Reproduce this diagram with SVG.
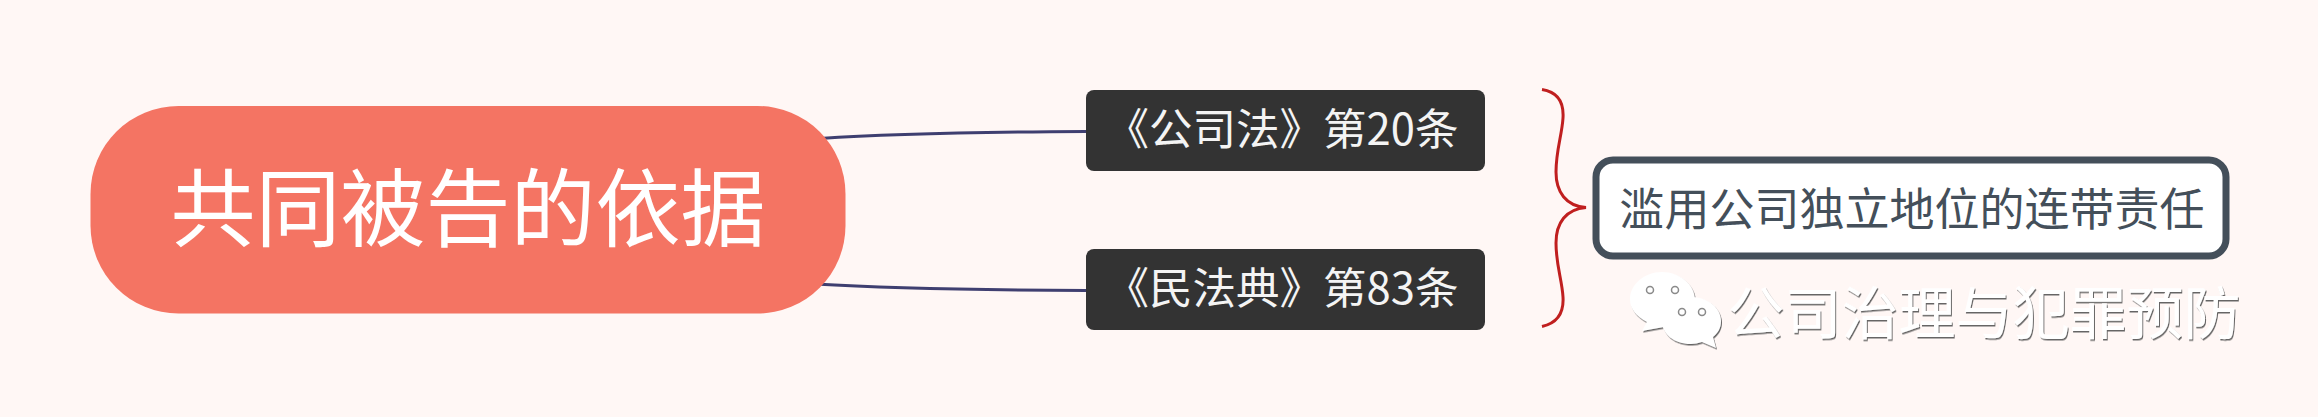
<svg xmlns="http://www.w3.org/2000/svg" width="2318" height="417" viewBox="0 0 2318 417">
<style>
text { font-family: "Noto Sans CJK SC", "Noto Sans", sans-serif; text-anchor: middle; }
.topic { fill: #333333; }
.topic-label { fill: #f4f4f4; font-size: 43.500px; }
.link { fill: none; stroke: #3f3f70; stroke-width: 3; }
.mark { fill: #ffffff; stroke: #8a8a8a; stroke-width: 1.500; }
</style>
<defs>
<filter id="emboss" x="-10%" y="-10%" width="120%" height="120%">
<feDropShadow dx="1" dy="1.500" stdDeviation="0.500" flood-color="#555555" flood-opacity="0.9"/>
</filter>
</defs>
<rect width="2318" height="417" fill="#fff7f5"/>
<g id="connectors">
<path class="link" d="M820 138.500C900 133 990 132 1086 131.500"/>
<path class="link" d="M815 284C900 289 990 290 1086 290.500"/>
<path d="M1542 89.500C1558 92 1564 102 1563 118C1562 135 1556 150 1556 172C1556 192 1566 206 1586 207.500C1566 209 1556 223 1556 243C1556 265 1562 280 1563 297C1564 313 1558 323 1542 326.500" fill="none" stroke="#c01f1f" stroke-width="3"/>
</g>
<g id="root">
<rect x="90.500" y="106" width="755" height="207.500" rx="88" ry="88" fill="#f47463"/>
<text x="468" y="240" font-size="85" fill="#ffffff">共同被告的依据</text>
</g>
<g id="topic-company-law">
<rect class="topic" x="1086" y="90" width="399" height="81" rx="8"/>
<text class="topic-label" x="1282" y="145">《公司法》第20条</text>
</g>
<g id="topic-civil-code">
<rect class="topic" x="1086" y="249" width="399" height="81" rx="8"/>
<text class="topic-label" x="1282" y="304">《民法典》第83条</text>
</g>
<g id="summary">
<rect x="1596" y="160" width="630" height="96" rx="17" fill="#ffffff" stroke="#444f5a" stroke-width="7"/>
<text x="1912" y="226" font-size="45" fill="#444f5a">滥用公司独立地位的连带责任</text>
</g>
<g id="watermark">
<g filter="url(#emboss)" fill="#ffffff">
<path d="M1662 272C1680 272 1695 285 1695 300C1695 315 1682 326 1664 327L1642 331L1647 322C1636 316 1630 309 1630 299C1630 285 1644 272 1662 272Z"/>
<path d="M1691 297C1708 297 1721 308 1721 321C1721 328 1718 333 1713 337L1716 348L1702 342C1698 343 1695 344 1691 344C1674 344 1662 334 1662 321C1662 308 1674 297 1691 297Z"/>
<text x="1984" y="334" font-size="57">公司治理与犯罪预防</text>
</g>
<circle cx="1650" cy="290" r="3.500" class="mark"/>
<circle cx="1675" cy="290" r="3.500" class="mark"/>
<circle cx="1682" cy="312" r="3.500" class="mark"/>
<circle cx="1702" cy="312" r="3.500" class="mark"/>
</g>
</svg>
